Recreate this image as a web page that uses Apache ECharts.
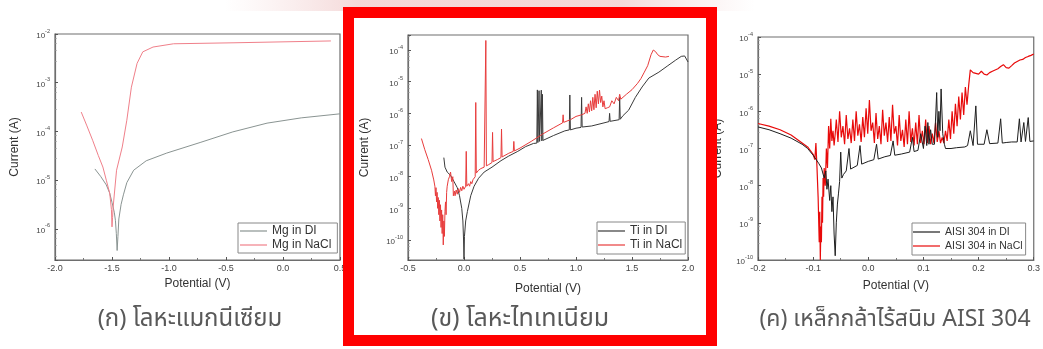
<!DOCTYPE html>
<html>
<head>
<meta charset="utf-8">
<script src="https://cdn.jsdelivr.net/npm/echarts@6/dist/echarts.min.js"></script>
<style>
html,body{margin:0;padding:0;background:#fff;}
#c{width:1043px;height:349px;}
</style>
</head>
<body>
<div id="c"></div>
<script>
// ---------- DATA (Potential V, Current A) ----------
const mgDI = [[-1.65,1.7e-5],[-1.60,1.2e-5],[-1.55,8.0e-6],[-1.52,5.4e-6],[-1.50,3.5e-6],[-1.48,2.2e-6],[-1.47,1.5e-6],[-1.462,8.0e-7],[-1.455,3.6e-7],[-1.448,7.0e-7],[-1.44,1.6e-6],[-1.42,3.2e-6],[-1.40,5.0e-6],[-1.37,8.9e-6],[-1.31,1.6e-5],[-1.20,2.5e-5],[-1.02,3.6e-5],[-0.72,6.0e-5],[-0.44,9.8e-5],[-0.14,1.48e-4],[0.16,1.9e-4],[0.50,2.3e-4]];
const mgNaCl = [[-1.77,2.5e-4],[-1.72,1.3e-4],[-1.67,6.6e-5],[-1.62,3.2e-5],[-1.58,1.86e-5],[-1.55,1.0e-5],[-1.52,5.4e-6],[-1.505,2.5e-6],[-1.50,1.1e-6],[-1.495,1.7e-6],[-1.49,2.8e-6],[-1.46,1.6e-5],[-1.41,4.8e-5],[-1.37,1.7e-4],[-1.33,8.1e-4],[-1.28,2.5e-3],[-1.23,4.3e-3],[-1.14,5.4e-3],[-0.96,6.3e-3],[-0.43,6.6e-3],[0.0,6.9e-3],[0.42,7.2e-3]];

const tiDI = [[-0.18,4.0e-8],[-0.17,2.0e-8],[-0.15,1.4e-8],[-0.12,1.1e-8],[-0.09,7.1e-9],[-0.06,4.5e-9],[-0.04,2.5e-9],[-0.02,1.0e-9],[-0.01,4.0e-10],[-0.004,1.0e-10],[0.0,2.5e-11],[0.004,1.3e-10],[0.015,4.0e-10],[0.03,7.9e-10],[0.06,2.5e-9],[0.09,5.0e-9],[0.13,8.9e-9],[0.18,1.4e-8],[0.25,2.0e-8],[0.33,3.2e-8],[0.40,4.5e-8],[0.48,6.3e-8],[0.55,8.9e-8],[0.62,1.12e-7],[0.650,1.15e-7],[0.655,5.5e-6],[0.660,1.2e-7],[0.665,1.25e-7],[0.670,5.2e-6],[0.675,1.3e-7],[0.685,1.3e-7],[0.690,5.4e-6],[0.695,1.35e-7],[0.700,4.0e-6],[0.705,1.4e-7],[0.72,1.45e-7],[0.80,2.0e-7],[0.90,2.8e-7],[0.940,3.0e-7],[0.945,3.8e-6],[0.950,3.0e-7],[1.00,3.4e-7],[1.045,3.6e-7],[1.050,3.2e-6],[1.055,3.7e-7],[1.14,4.0e-7],[1.25,5.0e-7],[1.295,5.5e-7],[1.300,1.0e-6],[1.305,5.6e-7],[1.385,6.3e-7],[1.390,3.2e-6],[1.395,6.5e-7],[1.42,8.5e-7],[1.47,1.26e-6],[1.53,3.2e-6],[1.59,6.8e-6],[1.65,1.3e-5],[1.74,2.0e-5],[1.82,3.2e-5],[1.89,4.8e-5],[1.94,6.3e-5],[1.97,6.5e-5],[2.0,4.2e-5]];
const tiNaCl = [[-0.38,1.6e-7],[-0.35,7.1e-8],[-0.32,3.5e-8],[-0.29,1.6e-8],[-0.27,7.9e-9],[-0.26,5.0e-9],[-0.255,2.5e-9],[-0.25,4.5e-9],[-0.245,1.6e-9],[-0.24,3.2e-9],[-0.235,1.0e-9],[-0.23,2.2e-9],[-0.225,6.3e-10],[-0.22,1.8e-9],[-0.215,4.0e-10],[-0.21,1.3e-9],[-0.205,2.5e-10],[-0.20,8.9e-10],[-0.195,1.6e-10],[-0.19,6.3e-10],[-0.185,7.0e-11],[-0.18,4.0e-10],[-0.175,1.3e-10],[-0.17,8.0e-10],[-0.165,1.6e-9],[-0.16,6.3e-10],[-0.155,3.2e-9],[-0.15,5.0e-9],[-0.14,8.0e-9],[-0.13,1.0e-8],[-0.12,1.4e-8],[-0.11,7.0e-9],[-0.10,1.0e-8],[-0.095,2.5e-9],[-0.09,2.2e-9],[-0.085,3.5e-9],[-0.08,2.5e-9],[-0.07,3.8e-9],[-0.06,2.8e-9],[-0.05,4.2e-9],[-0.04,3.2e-9],[-0.03,4.6e-9],[-0.02,3.6e-9],[-0.01,5.0e-9],[0.0,4.0e-9],[0.015,5.0e-9],[0.02,6.3e-8],[0.025,5.0e-9],[0.04,6.0e-9],[0.05,5.0e-9],[0.06,7.0e-9],[0.07,6.0e-9],[0.08,8.0e-9],[0.09,7.0e-9],[0.10,1.0e-8],[0.105,2.2e-6],[0.11,1.3e-8],[0.13,1.6e-8],[0.15,1.8e-8],[0.18,2.0e-8],[0.19,2.1e-8],[0.195,2.0e-4],[0.20,2.2e-8],[0.22,2.4e-8],[0.25,2.8e-8],[0.255,2.5e-7],[0.26,3.0e-8],[0.30,3.5e-8],[0.33,4.0e-8],[0.335,3.2e-7],[0.34,4.2e-8],[0.40,5.5e-8],[0.44,6.3e-8],[0.445,1.3e-7],[0.45,6.5e-8],[0.50,8.0e-8],[0.60,1.3e-7],[0.70,2.2e-7],[0.80,3.5e-7],[0.88,5.0e-7],[0.885,9.0e-7],[0.89,5.2e-7],[0.95,6.3e-7],[1.00,8.0e-7],[1.05,9.0e-7],[1.08,1.0e-6],[1.09,1.6e-6],[1.10,1.0e-6],[1.11,2.0e-6],[1.12,1.1e-6],[1.13,2.5e-6],[1.14,1.2e-6],[1.15,3.2e-6],[1.16,1.3e-6],[1.17,4.0e-6],[1.18,1.5e-6],[1.19,5.0e-6],[1.20,2.0e-6],[1.21,5.4e-6],[1.22,2.2e-6],[1.23,3.5e-6],[1.24,1.6e-6],[1.25,2.5e-6],[1.26,1.4e-6],[1.28,1.5e-6],[1.30,1.6e-6],[1.32,2.5e-6],[1.34,2.0e-6],[1.36,3.2e-6],[1.38,2.5e-6],[1.39,4.0e-6],[1.40,2.8e-6],[1.45,4.0e-6],[1.50,5.6e-6],[1.55,8.9e-6],[1.58,1.26e-5],[1.61,2.0e-5],[1.64,3.2e-5],[1.67,7.1e-5],[1.69,1.0e-4],[1.71,8.9e-5],[1.73,7.1e-5],[1.75,6.3e-5],[1.80,6.0e-5],[1.83,6.3e-5]];

const ssDI = [[-0.20,3.8e-7],[-0.18,3.2e-7],[-0.16,2.5e-7],[-0.14,1.9e-7],[-0.12,1.3e-7],[-0.11,1.0e-7],[-0.10,6.6e-8],[-0.09,4.0e-8],[-0.085,3.0e-8],[-0.08,1.6e-8],[-0.077,2.5e-8],[-0.075,8.0e-9],[-0.073,1.5e-8],[-0.07,4.0e-9],[-0.068,1.0e-8],[-0.066,2.0e-9],[-0.064,5.0e-9],[-0.062,5.0e-10],[-0.060,1.3e-10],[-0.058,1.0e-9],[-0.056,3.2e-9],[-0.054,6.3e-9],[-0.052,1.3e-8],[-0.05,8.0e-8],[-0.048,1.6e-8],[-0.045,2.0e-8],[-0.04,2.5e-8],[-0.035,1.0e-7],[-0.032,2.8e-8],[-0.03,3.0e-8],[-0.02,3.5e-8],[-0.015,1.2e-7],[-0.012,3.8e-8],[0.0,4.5e-8],[0.01,5.0e-8],[0.015,1.3e-7],[0.018,5.2e-8],[0.03,6.0e-8],[0.04,6.5e-8],[0.045,1.6e-7],[0.048,6.6e-8],[0.06,7.1e-8],[0.075,8.0e-8],[0.08,2.0e-7],[0.083,8.3e-8],[0.09,8.9e-8],[0.095,2.5e-7],[0.10,1.0e-7],[0.103,4.0e-7],[0.106,1.2e-7],[0.108,5.0e-7],[0.11,1.3e-7],[0.113,3.2e-7],[0.116,1.3e-7],[0.12,1.3e-7],[0.124,3.2e-6],[0.126,2.0e-7],[0.128,1.0e-6],[0.13,3.0e-7],[0.132,4.0e-6],[0.135,2.5e-7],[0.138,1.3e-7],[0.14,1.0e-7],[0.15,1.0e-7],[0.16,1.05e-7],[0.175,1.1e-7],[0.18,1.2e-7],[0.185,3.0e-7],[0.19,1.2e-7],[0.195,1.4e-6],[0.198,1.3e-7],[0.21,1.3e-7],[0.215,3.2e-7],[0.22,1.35e-7],[0.235,1.4e-7],[0.24,6.3e-7],[0.243,1.4e-7],[0.25,1.45e-7],[0.26,1.5e-7],[0.27,1.5e-7],[0.274,6.3e-7],[0.277,1.5e-7],[0.282,5.0e-7],[0.285,1.55e-7],[0.29,6.8e-7],[0.293,1.55e-7],[0.30,1.6e-7]];
const ssNaCl = [[-0.20,4.7e-7],[-0.18,4.0e-7],[-0.16,3.2e-7],[-0.14,2.3e-7],[-0.125,1.6e-7],[-0.11,1.1e-7],[-0.10,7.0e-8],[-0.097,5.0e-8],[-0.095,1.4e-7],[-0.093,3.0e-8],[-0.091,5.0e-9],[-0.089,3.0e-10],[-0.088,2.0e-9],[-0.087,1.0e-10],[-0.086,8.0e-10],[-0.085,3.0e-10],[-0.084,5.0e-9],[-0.083,1.0e-9],[-0.082,1.6e-8],[-0.081,5.0e-9],[-0.08,3.0e-8],[-0.078,1.0e-8],[-0.076,1.0e-7],[-0.074,3.0e-8],[-0.072,4.0e-7],[-0.07,1.0e-7],[-0.068,6.3e-7],[-0.066,1.6e-7],[-0.064,3.0e-7],[-0.062,1.2e-7],[-0.06,2.5e-7],[-0.058,6.0e-7],[-0.055,1.5e-7],[-0.052,1.0e-6],[-0.049,2.0e-7],[-0.046,4.0e-7],[-0.043,1.3e-7],[-0.040,8.0e-7],[-0.037,1.8e-7],[-0.034,3.5e-7],[-0.031,1.4e-7],[-0.028,6.0e-7],[-0.025,1.6e-7],[-0.022,1.0e-6],[-0.019,2.2e-7],[-0.016,4.5e-7],[-0.013,1.5e-7],[-0.010,7.0e-7],[-0.007,2.0e-7],[-0.004,1.2e-6],[-0.001,2.5e-7],[0.002,2.0e-6],[0.005,3.0e-7],[0.008,5.0e-7],[0.011,1.4e-7],[0.014,9.0e-7],[0.017,1.8e-7],[0.020,4.0e-7],[0.023,1.3e-7],[0.026,1.1e-6],[0.029,2.2e-7],[0.032,5.0e-7],[0.035,1.5e-7],[0.038,7.0e-7],[0.041,1.6e-7],[0.044,1.5e-6],[0.047,2.5e-7],[0.050,4.0e-7],[0.053,1.2e-7],[0.056,8.0e-7],[0.059,1.6e-7],[0.062,3.2e-7],[0.065,1.1e-7],[0.068,6.0e-7],[0.071,1.3e-7],[0.074,1.0e-6],[0.077,1.5e-7],[0.080,3.5e-7],[0.083,1.2e-7],[0.086,5.0e-7],[0.089,1.3e-7],[0.092,8.0e-7],[0.095,1.4e-7],[0.098,3.0e-7],[0.101,1.3e-7],[0.104,6.0e-7],[0.107,1.4e-7],[0.110,4.0e-7],[0.113,1.3e-7],[0.116,2.5e-7],[0.119,1.4e-7],[0.122,5.0e-7],[0.125,1.5e-7],[0.128,3.0e-7],[0.131,1.4e-7],[0.134,2.0e-7],[0.137,1.4e-7],[0.140,3.0e-7],[0.143,1.6e-7],[0.146,6.0e-7],[0.149,1.8e-7],[0.152,1.0e-6],[0.155,2.5e-7],[0.158,1.6e-6],[0.161,4.0e-7],[0.164,2.5e-6],[0.167,6.0e-7],[0.170,3.2e-6],[0.173,8.0e-7],[0.176,4.5e-6],[0.179,1.5e-6],[0.182,5.0e-6],[0.185,1.3e-5],[0.19,1.1e-5],[0.20,1.0e-5],[0.205,1.2e-5],[0.21,1.0e-5],[0.215,9.5e-6],[0.22,1.1e-5],[0.225,1.2e-5],[0.23,1.3e-5],[0.235,1.4e-5],[0.24,1.6e-5],[0.245,1.8e-5],[0.25,1.5e-5],[0.255,1.45e-5],[0.26,1.7e-5],[0.265,2.0e-5],[0.27,2.2e-5],[0.275,2.4e-5],[0.28,2.5e-5],[0.285,2.8e-5],[0.29,3.0e-5],[0.295,3.2e-5],[0.30,3.5e-5]];

const seriesNames = [['Mg in DI','Mg in NaCl'],['Ti in DI','Ti in NaCl'],['AISI 304 in DI','AISI 304 in NaCl']];
const captions = ['(ก) โลหะแมกนีเซียม','(ข) โลหะไทเทเนียม','(ค) เหล็กกล้าไร้สนิม AISI 304'];
const xRanges = [[-2.0,0.5,0.5],[-0.5,2.0,0.5],[-0.2,0.3,0.1]];
const yRanges = [[2.3e-7,1e-2],[2.34e-11,2.98e-4],[1e-10,1e-4]];
const xTitle = 'Potential (V)';
const yTitle = 'Current (A)';

// ---------- LAYOUT ----------
const grids = [
  {left:55, top:34, width:285, height:226},
  {left:408, top:35, width:280, height:225},
  {left:758, top:37, width:280, height:223}
];
const yNameGap = [34,37,34];
const xNameGap = [17,23,20];
const FONT = 'Liberation Sans, Arial, sans-serif';
const THAI = 'Tahoma, Noto Sans Thai, sans-serif';

function yFmt(v){
  const e = Math.log10(v), r = Math.round(e);
  if (Math.abs(e - r) > 1e-6) return '';
  return '{b|10}{s|' + r + '}';
}

const xAxis = [], yAxis = [];
for (let i = 0; i < 3; i++) {
  xAxis.push({
    type:'value', gridIndex:i, min:xRanges[i][0], max:xRanges[i][1], interval:xRanges[i][2],
    name:xTitle, nameLocation:'middle', nameGap:xNameGap[i],
    nameTextStyle:{fontSize:12, color:'#333', fontFamily:FONT},
    axisLine:{show:true, onZero:false, lineStyle:{color:'#6e6e6e', width:1.2}},
    axisTick:{show:true, inside:true, length:3, lineStyle:{color:'#555'}},
    minorTick:{show:true, splitNumber:2, length:2, lineStyle:{color:'#777'}},
    splitLine:{show:false},
    axisLabel:{fontSize:9, color:'#444', margin:4, fontFamily:FONT,
      formatter:function(v){ return v.toFixed(1); }}
  });
  yAxis.push({
    type:'log', logBase:10, gridIndex:i, min:yRanges[i][0], max:yRanges[i][1],
    name:yTitle, nameLocation:'middle', nameGap:yNameGap[i], nameRotate:90,
    nameTextStyle:{fontSize:12, color:'#333', fontFamily:FONT},
    axisLine:{show:true, onZero:false, lineStyle:{color:'#6e6e6e', width:1.2}},
    axisTick:{show:true, inside:true, length:3, lineStyle:{color:'#555'}},
    minorTick:{show:true, splitNumber:5, length:1.5, lineStyle:{color:'#888'}},
    splitLine:{show:false},
    axisLabel:{margin:5, formatter:yFmt, fontFamily:FONT,
      rich:{b:{fontSize:8, color:'#444', lineHeight:12, verticalAlign:'bottom', fontFamily:FONT},
            s:{fontSize:5.5, color:'#444', lineHeight:12, verticalAlign:'top', fontFamily:FONT}}}
  });
}

function line(name, data, idx, color, z, w){
  return {name:name, type:'line', xAxisIndex:idx, yAxisIndex:idx, data:data,
    symbol:'none', showSymbol:false, z:z||2, clip:true,
    lineStyle:{width:w||1, color:color}, itemStyle:{color:color}};
}

const series = [
  line(seriesNames[0][0], mgDI, 0, '#8a9492'),
  line(seriesNames[0][1], mgNaCl, 0, '#f0808a'),
  line(seriesNames[1][0], tiDI, 1, '#3a3a3a'),
  line(seriesNames[1][1], tiNaCl, 1, '#e83c3c'),
  line(seriesNames[2][1], ssNaCl, 2, '#e80a0a', 2, 1.2),
  line(seriesNames[2][0], ssDI, 2, '#1e1e1e', 3)
];

function legend(names, left, top, fs, pad){
  return {data:names, left:left, top:top, orient:'vertical', backgroundColor:'#fff',
    borderColor:'#888', borderWidth:1, padding:pad, itemGap:2, itemWidth:27, itemHeight:1.2,
    icon:'rect', textStyle:{fontSize:fs, lineHeight:12, color:'#333', fontFamily:FONT}, selectedMode:false};
}

const option = {
  animation:false,
  backgroundColor:'#ffffff',
  grid: grids.map(g => Object.assign({show:true, borderColor:'#6e6e6e', borderWidth:1.2, backgroundColor:'#fff'}, g)),
  xAxis:xAxis, yAxis:yAxis, series:series,
  legend:[
    legend(seriesNames[0], 238, 223, 12, [2,6,2,2]),
    legend(seriesNames[1], 597, 222, 12, [3,3,3,1]),
    legend(seriesNames[2], 912, 223, 10.5, [3,3,3,1])
  ],
  graphic:[
    {type:'rect', z:1, silent:true, shape:{x:225, y:0, width:530, height:11},
      style:{fill:{type:'linear', x:0, y:0, x2:1, y2:0, colorStops:[
        {offset:0, color:'rgba(230,170,170,0)'},{offset:0.25, color:'rgba(225,150,150,0.35)'},
        {offset:0.75, color:'rgba(225,150,150,0.35)'},{offset:1, color:'rgba(230,170,170,0)'}]}}},
    {type:'text', z:50, style:{text:captions[0], x:190, y:321, align:'center', verticalAlign:'middle', fontSize:24, fill:'#595959', fontFamily:THAI}},
    {type:'text', z:50, style:{text:captions[1], x:520, y:321, align:'center', verticalAlign:'middle', fontSize:25, fill:'#595959', fontFamily:THAI}},
    {type:'text', z:50, style:{text:captions[2], x:895, y:321, align:'center', verticalAlign:'middle', fontSize:23, fill:'#595959', fontFamily:THAI}},
    {type:'rect', z:100, silent:true, shape:{x:348.5, y:12.5, width:363, height:328},
      style:{fill:'none', stroke:'#ff0000', lineWidth:11}}
  ]
};

const chart = echarts.init(document.getElementById('c'), null, {renderer:'canvas'});
chart.setOption(option);
</script>
</body>
</html>
